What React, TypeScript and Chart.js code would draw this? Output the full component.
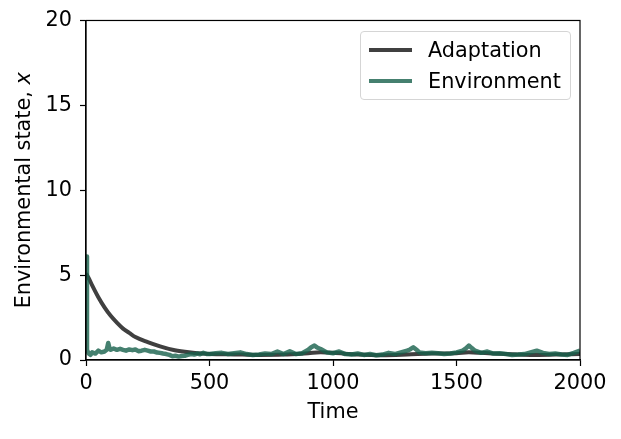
import React, { useEffect, useRef } from 'react';
import { Chart, registerables } from 'chart.js';
import type { ChartConfiguration, Plugin } from 'chart.js';

Chart.register(...registerables);

// Adaptation: smooth decay towards the environment
const adaptTime = [0, 10, 25, 50, 75, 100, 125, 150, 175, 200, 250, 300, 350, 400, 450, 500, 600, 700, 800, 900, 950, 1000, 1100, 1200, 1300, 1400, 1500, 1550, 1600, 1700, 1800, 1900, 2000];
const adaptValue = [5.1, 4.85, 4.4, 3.7, 3.1, 2.6, 2.2, 1.85, 1.6, 1.35, 1.05, 0.8, 0.6, 0.48, 0.4, 0.36, 0.33, 0.3, 0.32, 0.4, 0.45, 0.42, 0.32, 0.28, 0.32, 0.38, 0.4, 0.45, 0.42, 0.35, 0.3, 0.32, 0.35];

// Environment: noisy signal, spike at start
const envTime = [0, 4, 10, 18, 25, 38, 50, 62, 75, 84, 90, 96, 100, 112, 125, 138, 150, 162, 175, 188, 200, 212, 225, 238, 250, 262, 275, 288, 300, 312, 325, 338, 350, 362, 375, 388, 400, 412, 425, 438, 450, 462, 475, 488, 500, 525, 550, 575, 600, 625, 650, 675, 700, 725, 750, 775, 800, 825, 850, 875, 900, 912, 925, 938, 950, 975, 1000, 1025, 1050, 1075, 1100, 1125, 1150, 1175, 1200, 1225, 1250, 1275, 1300, 1312, 1325, 1338, 1350, 1375, 1400, 1425, 1450, 1475, 1500, 1525, 1538, 1550, 1562, 1575, 1600, 1625, 1650, 1675, 1700, 1725, 1750, 1775, 1800, 1825, 1850, 1875, 1900, 1925, 1950, 1975, 2000];
const envValue = [6.1, 0.6, 0.4, 0.3, 0.45, 0.38, 0.55, 0.45, 0.5, 0.6, 1.0, 0.65, 0.6, 0.68, 0.6, 0.66, 0.6, 0.55, 0.62, 0.58, 0.62, 0.52, 0.55, 0.6, 0.55, 0.5, 0.5, 0.44, 0.42, 0.38, 0.35, 0.3, 0.22, 0.25, 0.2, 0.24, 0.25, 0.3, 0.35, 0.32, 0.38, 0.34, 0.42, 0.36, 0.35, 0.4, 0.42, 0.35, 0.4, 0.45, 0.35, 0.3, 0.32, 0.38, 0.35, 0.5, 0.35, 0.52, 0.35, 0.4, 0.6, 0.75, 0.85, 0.72, 0.65, 0.45, 0.4, 0.5, 0.35, 0.32, 0.38, 0.3, 0.35, 0.28, 0.32, 0.42, 0.35, 0.45, 0.55, 0.62, 0.75, 0.6, 0.45, 0.4, 0.42, 0.4, 0.35, 0.38, 0.45, 0.55, 0.68, 0.85, 0.7, 0.55, 0.42, 0.5, 0.38, 0.4, 0.35, 0.3, 0.32, 0.35, 0.45, 0.55, 0.42, 0.35, 0.38, 0.32, 0.3, 0.42, 0.55];

const xTicks = [0, 500, 1000, 1500, 2000];
const yTicks = [0, 5, 10, 15, 20];

const FONT = 'DejaVu Sans';
const FS = 20.8;
const ADAPT_COLOR = '#404040';
const ENV_COLOR = 'rgba(22, 96, 75, 0.8)';

// frame around the plot + axis titles (y title has an italic x)
const framePlugin: Plugin = {
  id: 'frame',
  afterDraw(chart) {
    const { ctx, chartArea } = chart;
    const { left, top, right, bottom } = chartArea;
    ctx.save();
    ctx.strokeStyle = '#000';
    ctx.lineWidth = 1.2;
    ctx.strokeRect(left, top, right - left, bottom - top);

    ctx.fillStyle = '#000';
    ctx.textBaseline = 'middle';
    ctx.textAlign = 'center';
    ctx.font = `${FS}px "${FONT}"`;
    ctx.fillText('Time', (left + right) / 2, 413);

    const part1 = 'Environmental state, ';
    const part2 = 'x';
    ctx.font = `${FS}px "${FONT}"`;
    const w1 = ctx.measureText(part1).width;
    ctx.font = `italic ${FS}px "${FONT}"`;
    const w2 = ctx.measureText(part2).width;
    ctx.translate(25, (top + bottom) / 2);
    ctx.rotate(-Math.PI / 2);
    ctx.textAlign = 'left';
    ctx.font = `${FS}px "${FONT}"`;
    ctx.fillText(part1, -(w1 + w2) / 2, 0);
    ctx.font = `italic ${FS}px "${FONT}"`;
    ctx.fillText(part2, -(w1 + w2) / 2 + w1, 0);
    ctx.restore();
  },
};

const App: React.FC = () => {
  const canvasRef = useRef<HTMLCanvasElement>(null);
  const chartRef = useRef<Chart | null>(null);

  useEffect(() => {
    if (!canvasRef.current) return;
    if (chartRef.current) chartRef.current.destroy();

    const config: ChartConfiguration<'line'> = {
      type: 'line',
      data: {
        datasets: [
          {
            label: 'Adaptation',
            data: adaptTime.map((t, i) => ({ x: t, y: adaptValue[i] })),
            borderColor: ADAPT_COLOR,
            borderWidth: 4,
            pointRadius: 0,
            cubicInterpolationMode: 'monotone',
            order: 2,
          },
          {
            label: 'Environment',
            data: envTime.map((t, i) => ({ x: t, y: envValue[i] })),
            borderColor: ENV_COLOR,
            borderWidth: 4.5,
            pointRadius: 0,
            tension: 0,
            borderJoinStyle: 'round',
            order: 1,
          },
        ],
      },
      options: {
        animation: false,
        responsive: false,
        devicePixelRatio: 1,
        layout: { padding: { top: 20, right: 41, left: 0, bottom: 0 } },
        plugins: {
          legend: { display: false },
          tooltip: { enabled: false },
        },
        scales: {
          x: {
            type: 'linear',
            min: 0,
            max: 2000,
            afterBuildTicks: (scale) => {
              scale.ticks = xTicks.map((v) => ({ value: v }));
            },
            afterFit: (scale) => {
              scale.height = 79;
            },
            ticks: {
              color: '#000',
              font: { family: FONT, size: FS },
              padding: 5,
              maxRotation: 0,
              callback: (v) => String(v),
            },
            grid: { drawOnChartArea: false, color: '#000', tickLength: 6, tickWidth: 1.2 },
            border: { color: '#000', width: 1.2 },
          },
          y: {
            type: 'linear',
            min: 0,
            max: 20,
            afterBuildTicks: (scale) => {
              scale.ticks = yTicks.map((v) => ({ value: v }));
            },
            afterFit: (scale) => {
              scale.width = 86;
            },
            ticks: {
              color: '#000',
              font: { family: FONT, size: FS },
              padding: 8,
              callback: (v) => String(v),
            },
            grid: { drawOnChartArea: false, color: '#000', tickLength: 6, tickWidth: 1.2 },
            border: { color: '#000', width: 1.2 },
          },
        },
      },
      plugins: [framePlugin],
    };

    chartRef.current = new Chart(canvasRef.current, config);

    return () => {
      if (chartRef.current) {
        chartRef.current.destroy();
        chartRef.current = null;
      }
    };
  }, []);

  const legendRow = (color: string, label: string, top: number) => (
    <div style={{ position: 'absolute', left: 0, top, height: 30, width: '100%' }}>
      <div style={{ position: 'absolute', left: 8, top: 13, width: 43, height: 4, background: color }} />
      <span style={{ position: 'absolute', left: 67, top: 1, fontSize: FS, lineHeight: '28px', color: '#000' }}>{label}</span>
    </div>
  );

  return (
    <div style={{ position: 'fixed', left: 0, top: 0, width: 621, height: 439, background: '#fff', fontFamily: `"${FONT}", sans-serif` }}>
      <canvas ref={canvasRef} width={621} height={439}></canvas>
      <div
        style={{
          position: 'absolute',
          left: 360,
          top: 31,
          width: 209,
          height: 67,
          border: '1px solid #d5d5d5',
          borderRadius: 4,
          background: 'rgba(255,255,255,0.8)',
        }}
      >
        {legendRow(ADAPT_COLOR, 'Adaptation', 3)}
        {legendRow(ENV_COLOR, 'Environment', 34)}
      </div>
    </div>
  );
};

export default App;
